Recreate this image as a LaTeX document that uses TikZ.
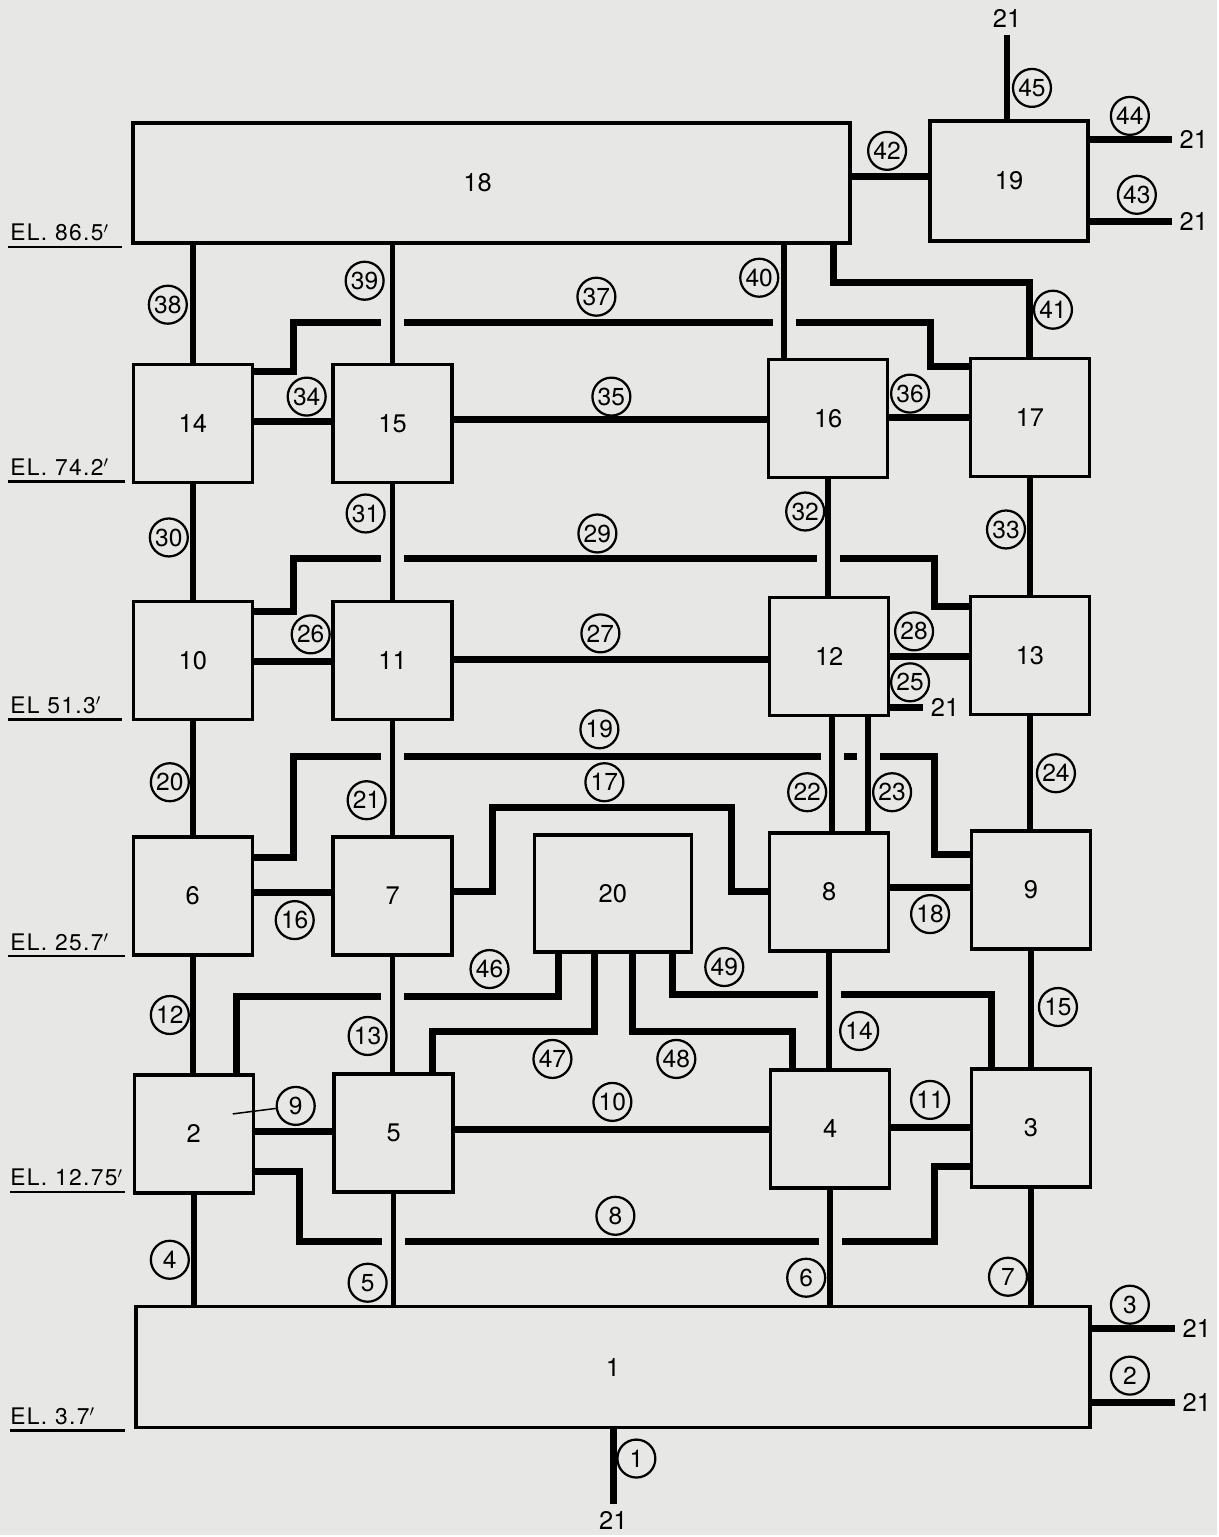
\documentclass[tikz,border=0pt]{standalone}
\usepackage{fontspec}
\setmainfont{TeX Gyre Heros}
\newfontfamily\levelfont[LetterSpace=6]{TeX Gyre Heros}
\usetikzlibrary{calc}
\definecolor{paper}{RGB}{231,231,229}

\begin{document}
\begin{tikzpicture}[x=0.2mm, y=-0.2mm,
		room/.style={draw, line width=0.7mm, inner sep=0pt, minimum width=23.8mm, minimum height=23.6mm, font=\fontsize{14.5}{16}\selectfont},
		tag/.style={draw, circle, fill=paper, line width=0.45mm, inner sep=0pt, minimum size=7.6mm, font=\fontsize{14}{15}\selectfont},
		pipe/.style={line width=1.4mm},
		riser/.style={line width=1.1mm, preaction={draw=paper, line width=4.6mm}},
		sink/.style={inner sep=1.5mm, font=\fontsize{14.5}{16}\selectfont},
		level/.style={anchor=base west, inner sep=0pt, font=\levelfont\fontsize{13}{15}\selectfont}]

	\fill[paper] (0, 0) rectangle (1218, 1537);

	\node[room, minimum width=143.6mm, minimum height=24mm] (c18) at (492, 183) {\hspace*{-5.6mm}18};
	\node[room, minimum width=31.6mm, minimum height=24mm] (c19) at (1010, 181) {19};

	\node[room] (c14) at (193, 424) {14};
	\node[room] (c15) at (393, 424) {15};
	\node[room] (c16) at (829, 419) {16};
	\node[room] (c17) at (1031, 418) {17};

	\node[room] (c10) at (193, 661) {10};
	\node[room] (c11) at (393, 661) {11};
	\node[room] (c12) at (830, 657) {12};
	\node[room] (c13) at (1031, 656) {13};

	\node[room] (c6) at (193, 897) {6};
	\node[room] (c7) at (393, 897) {7};
	\node[room, minimum width=31.4mm, minimum height=23.4mm] (c20) at (613.5, 894.5) {20};
	\node[room] (c8) at (830, 893) {8};
	\node[room] (c9) at (1032, 891) {9};

	\node[room] (c2) at (194, 1135) {2};
	\node[room] (c5) at (394, 1134) {5};
	\node[room] (c4) at (831, 1130) {4};
	\node[room] (c3) at (1032, 1129) {3};

	\node[room, minimum width=191mm, minimum height=24.2mm] (c1) at (613.5, 1368.5) {1};

	\node[sink] (o45) at (1008, 18) {21};
	\node[sink] (o44) at (1195, 140) {21};
	\node[sink] (o43) at (1195, 222) {21};
	\node[sink] (o25) at (946, 708) {21};
	\node[sink] (o3) at (1198, 1330) {21};
	\node[sink] (o2) at (1198, 1404) {21};
	\node[sink] (o1) at (614, 1522) {21};

	\draw[pipe] (c19.north -| o45) -- (o45);
	\draw[pipe] (c19.east |- o44) -- (o44);
	\draw[pipe] (c19.east |- o43) -- (o43);
	\draw[pipe] (c18.east |- 0, 177) -- (c19.west |- 0, 177);
	\draw[pipe] (c18.south -| 834, 0) |- (c17.north |- 0, 283) -- (c17.north);
	\draw[pipe] (c14.east |- 0, 372) -| (294, 323) -| (931, 367) -- (c17.west |- 0, 367);
	\draw[pipe] (c14.east |- 0, 422) -- (c15.west |- 0, 422);
	\draw[pipe] (c15.east |- 0, 420) -- (c16.west |- 0, 420);
	\draw[pipe] (c16.east |- 0, 418) -- (c17.west |- 0, 418);

	\draw[pipe] (c10.east |- 0, 612) -| (294, 559) -| (935, 607) -- (c13.west |- 0, 607);
	\draw[pipe] (c10.east |- 0, 662) -- (c11.west |- 0, 662);
	\draw[pipe] (c11.east |- 0, 660) -- (c12.west |- 0, 660);
	\draw[pipe] (c12.east |- 0, 657) -- (c13.west |- 0, 657);
	\draw[pipe] (c12.east |- o25) -- (o25);

	\draw[pipe] (c6.east |- 0, 858) -| (294, 757) -| (935, 855) -- (c9.west |- 0, 855);
	\draw[pipe] (c6.east |- 0, 893) -- (c7.west |- 0, 893);
	\draw[pipe] (c7.east |- 0, 892) -| (493, 808) -| (732, 892) -- (c8.west |- 0, 892);
	\draw[pipe] (c8.east |- 0, 888) -- (c9.west |- 0, 888);

	\draw[pipe] (c20.south -| 559, 0) |- (237, 997) -- (c2.north -| 237, 0);
	\draw[pipe] (c20.south -| 595, 0) |- (433, 1033) -- (c5.north -| 433, 0);
	\draw[pipe] (c20.south -| 633, 0) |- (793, 1033) -- (c4.north -| 793, 0);
	\draw[pipe] (c20.south -| 673, 0) |- (992, 995) -- (c3.north -| 992, 0);

	\draw[pipe] (c2.east |- 0, 1133) -- (c5.west |- 0, 1133);
	\draw[pipe] (c5.east |- 0, 1131) -- (c4.west |- 0, 1131);
	\draw[pipe] (c4.east |- 0, 1129) -- (c3.west |- 0, 1129);
	\draw[pipe] (c2.east |- 0, 1173) -| (300, 1243) -| (935, 1168) -- (c3.west |- 0, 1168);

	\draw[pipe] (c1.east |- o3) -- (o3);
	\draw[pipe] (c1.east |- o2) -- (o2);
	\draw[pipe] (c1.south -| o1) -- (o1);

	\draw[riser] (c18.south -| c14.north) -- (c14.north);
	\draw[riser] (c18.south -| c15.north) -- (c15.north);
	\draw[riser] (c18.south -| 785, 0) -- (c16.north -| 785, 0);
	\draw[riser] (c14.south) -- (c10.north);
	\draw[riser] (c15.south) -- (c11.north);
	\draw[riser] (c16.south) -- (c16.south |- c12.north);
	\draw[riser] (c17.south) -- (c13.north);
	\draw[riser] (c10.south) -- (c6.north);
	\draw[riser] (c11.south) -- (c7.north);
	\draw[riser] (c12.south -| 833, 0) -- (c8.north -| 833, 0);
	\draw[riser] (c12.south -| 869, 0) -- (c8.north -| 869, 0);
	\draw[riser] (c13.south) -- (c13.south |- c9.north);
	\draw[riser] (c6.south) -- (c6.south |- c2.north);
	\draw[riser] (c7.south) -- (c7.south |- c5.north);
	\draw[riser] (c8.south) -- (c8.south |- c4.north);
	\draw[riser] (c9.south) -- (c3.north);
	\draw[riser] (c2.south) -- (c2.south |- c1.north);
	\draw[riser] (c5.south) -- (c5.south |- c1.north);
	\draw[riser] (c4.south) -- (c4.south |- c1.north);
	\draw[riser] (c3.south) -- (c3.south |- c1.north);

	\node[tag] (f1) at (637, 1460) {1};
	\node[tag] (f2) at (1131, 1377) {2};
	\node[tag] (f3) at (1131, 1306) {3};
	\node[tag] (f4) at (170, 1261) {4};
	\node[tag] (f5) at (368, 1284) {5};
	\node[tag] (f6) at (807, 1279) {6};
	\node[tag] (f7) at (1009, 1278) {7};
	\node[tag] (f8) at (616, 1217) {8};
	\node[tag] (f9) at (296, 1107) {9};
	\node[tag] (f10) at (613, 1103) {10};
	\node[tag] (f11) at (931, 1101) {11};
	\node[tag] (f12) at (170, 1016) {12};
	\node[tag] (f13) at (368, 1037) {13};
	\node[tag] (f14) at (860, 1032) {14};
	\node[tag] (f15) at (1059, 1008) {15};
	\node[tag] (f16) at (295, 921) {16};
	\node[tag] (f17) at (605, 783) {17};
	\node[tag] (f18) at (931, 915) {18};
	\node[tag] (f19) at (600, 730) {19};
	\node[tag] (f20) at (170, 783) {20};
	\node[tag] (f21) at (367, 801) {21};
	\node[tag] (f22) at (808, 793) {22};
	\node[tag] (f23) at (893, 793) {23};
	\node[tag] (f24) at (1057, 774) {24};
	\node[tag] (f25) at (911, 683) {25};
	\node[tag] (f26) at (311, 635) {26};
	\node[tag] (f27) at (601, 634) {27};
	\node[tag] (f28) at (915, 632) {28};
	\node[tag] (f29) at (598, 534) {29};
	\node[tag] (f30) at (169, 538) {30};
	\node[tag] (f31) at (366, 514) {31};
	\node[tag] (f32) at (806, 512) {32};
	\node[tag] (f33) at (1007, 530) {33};
	\node[tag] (f34) at (307, 397) {34};
	\node[tag] (f35) at (612, 397) {35};
	\node[tag] (f36) at (911, 394) {36};
	\node[tag] (f37) at (597, 297) {37};
	\node[tag] (f38) at (168, 305) {38};
	\node[tag] (f39) at (365, 281) {39};
	\node[tag] (f40) at (760, 278) {40};
	\node[tag] (f41) at (1054, 310) {41};
	\node[tag] (f42) at (888, 151) {42};
	\node[tag] (f43) at (1138, 195) {43};
	\node[tag] (f44) at (1131, 116) {44};
	\node[tag] (f45) at (1033, 88) {45};
	\node[tag] (f46) at (490, 970) {46};
	\node[tag] (f47) at (553, 1060) {47};
	\node[tag] (f48) at (677, 1060) {48};
	\node[tag] (f49) at (725, 968) {49};

	\coordinate (k9) at (233, 1115);
	\draw[line width=0.3mm] (k9) -- (f9);

	\node[level] (el865) at (10, 241) {EL. 86.5$'$};
	\node[level] (el742) at (10, 476) {EL. 74.2$'$};
	\node[level] (el513) at (10, 714) {EL 51.3$'$};
	\node[level] (el257) at (10, 951) {EL. 25.7$'$};
	\node[level] (el1275) at (10, 1187) {EL. 12.75$'$};
	\node[level] (el37) at (10, 1426) {EL. 3.7$'$};
	\draw[line width=0.5mm] (8, 247) -- (122, 247);
	\draw[line width=0.5mm] (8, 482) -- (125, 482);
	\draw[line width=0.5mm] (8, 720) -- (122, 720);
	\draw[line width=0.5mm] (8, 957) -- (125, 957);
	\draw[line width=0.5mm] (10, 1193) -- (125, 1193);
	\draw[line width=0.5mm] (10, 1432) -- (125, 1432);
\end{tikzpicture}
\end{document}
